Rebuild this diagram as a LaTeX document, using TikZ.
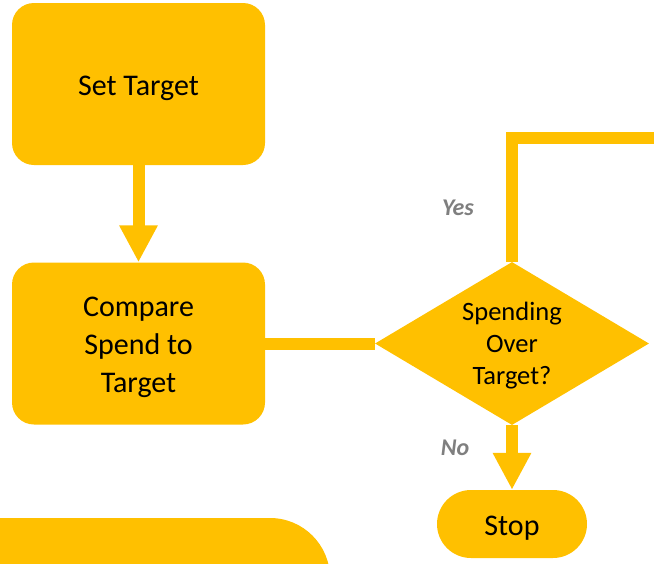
\documentclass[tikz,border=0pt]{standalone}
\usepackage{fontspec}
\setmainfont{Carlito}
\usetikzlibrary{shapes.geometric,arrows.meta}
\definecolor{amber}{HTML}{FFC000}
\definecolor{lbl}{HTML}{7F7F7F}
\tikzset{
  procbox/.style={fill=amber, rounded corners=22pt, minimum width=253pt, minimum height=162pt, inner sep=0pt},
  boxtext/.style={inner sep=0pt, align=center, font=\fontsize{30}{38}\selectfont},
  dectext/.style={inner sep=0pt, align=center, font=\fontsize{26.5}{32}\selectfont},
  decbox/.style={shape=diamond, fill=amber, inner sep=0pt, minimum width=274pt, minimum height=163pt, aspect=1.68},
  termbox/.style={fill=amber, rounded corners=34pt, minimum width=150pt, minimum height=68pt, inner sep=0pt},
  flow/.style={draw=amber, line width=12pt},
  flowarrow/.style={flow, -{Triangle[width=36pt,length=37pt]}},
  answer/.style={text=lbl, font=\fontsize{24}{28}\selectfont\bfseries\itshape},
}
\begin{document}
\begin{tikzpicture}[x=1pt,y=-1pt]
\useasboundingbox (0,0) rectangle (654,563);
\clip (0,0) rectangle (654,563);
\node[procbox] (set) at (138.5,84) {};
\node[procbox] (cmp) at (138.5,343.5) {};
\node[decbox] (dec) at (512,343.5) {};
\node[termbox] (stop) at (512,524) {};
\node[fill=amber, rounded corners=60pt, minimum width=430pt, minimum height=120pt] (bottom) at (115,578) {};
\node[boxtext] (settext) at ([yshift=-4pt]set.center) {Set Target};
\node[boxtext] (cmptext) at ([yshift=-4pt]cmp.center) {Compare\\Spend to\\Target};
\node[dectext] (dectxt) at ([yshift=-2pt]dec.center) {Spending\\Over\\Target?};
\node[boxtext] (stoptext) at ([yshift=-4pt]stop.center) {Stop};
\coordinate (yesend) at (670,137.5);
\draw[flowarrow] (set.south) -- (cmp.north);
\draw[flow] (cmp.east) -- (dec.west);
\draw[flow] (dec.north) |- (yesend);
\draw[flowarrow] (dec.south) -- (stop.north);
\node[answer] (yes) at (458,208) {Yes};
\node[answer] (no) at (455,448) {No};
\end{tikzpicture}
\end{document}
